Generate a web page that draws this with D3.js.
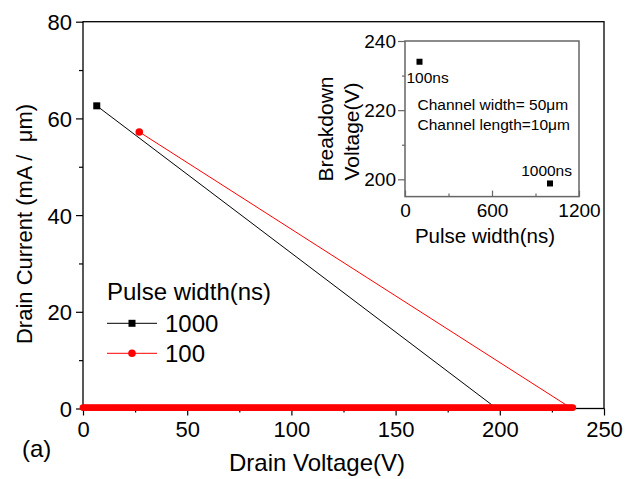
<!DOCTYPE html>
<html>
<head>
<meta charset="utf-8">
<script src="https://cdn.jsdelivr.net/npm/d3@7"></script>
<style>
  body { margin: 0; background: #fff; }
  svg { display: block; }
  svg text { font-family: Arial, "Liberation Sans", sans-serif; }
</style>
</head>
<body>
<div id="chart"></div>
<script>
// Main chart data
var pulseNames = ["1000", "100"];          // legend entries, pulse width in ns
var seriesColors = ["black", "red"];
var onVoltage = [6.6, 27.0];               // on-state point, V
var onCurrent = [62.6, 57.2];              // on-state point, mA/um
var breakVoltage = [198.5, 234.5];         // where the load line reaches 0 current
// off-state sweep for 100 ns, current sits at ~0
var offVoltage = [0, 1, 2, 3, 4, 5, 6, 7, 8, 9, 10, 11, 12, 13, 14, 15, 16, 17, 18, 19,
    20, 21, 22, 23, 24, 25, 26, 27, 28, 29, 30, 31, 32, 33, 34, 35, 36, 37, 38, 39,
    40, 41, 42, 43, 44, 45, 46, 47, 48, 49, 50, 51, 52, 53, 54, 55, 56, 57, 58, 59,
    60, 61, 62, 63, 64, 65, 66, 67, 68, 69, 70, 71, 72, 73, 74, 75, 76, 77, 78, 79,
    80, 81, 82, 83, 84, 85, 86, 87, 88, 89, 90, 91, 92, 93, 94, 95, 96, 97, 98, 99,
    100, 101, 102, 103, 104, 105, 106, 107, 108, 109, 110, 111, 112, 113, 114, 115, 116, 117, 118, 119,
    120, 121, 122, 123, 124, 125, 126, 127, 128, 129, 130, 131, 132, 133, 134, 135, 136, 137, 138, 139,
    140, 141, 142, 143, 144, 145, 146, 147, 148, 149, 150, 151, 152, 153, 154, 155, 156, 157, 158, 159,
    160, 161, 162, 163, 164, 165, 166, 167, 168, 169, 170, 171, 172, 173, 174, 175, 176, 177, 178, 179,
    180, 181, 182, 183, 184, 185, 186, 187, 188, 189, 190, 191, 192, 193, 194, 195, 196, 197, 198, 199,
    200, 201, 202, 203, 204, 205, 206, 207, 208, 209, 210, 211, 212, 213, 214, 215, 216, 217, 218, 219,
    220, 221, 222, 223, 224, 225, 226, 227, 228, 229, 230, 231, 232, 233, 234, 235];
var offCurrent = 0.2;

var xTicks = [0, 50, 100, 150, 200, 250];
var yTicks = [0, 20, 40, 60, 80];

// Inset data
var insetPulse = [100, 1000];              // ns
var insetBreakdown = [234, 198.8];         // V
var insetPointLabels = ["100ns", "1000ns"];
var insetXTicks = [0, 600, 1200];
var insetYTicks = [200, 220, 240];

var width = 632, height = 479;
var FONT = "Arial, 'Liberation Sans', sans-serif";

var svg = d3.select("#chart").append("svg")
    .attr("width", width)
    .attr("height", height);

// helper: strip the axis domain and style its ticks
function styleAxis(g, size, col) {
    g.attr("font-family", FONT).attr("font-size", size);
    g.select(".domain").remove();
    g.selectAll("line").attr("stroke", col).attr("stroke-width", 1.2);
    g.selectAll("text").attr("fill", "black");
}

// ---- main plot ----
var x = d3.scaleLinear().domain([0, 250]).range([83, 604]);
var y = d3.scaleLinear().domain([0, 80]).range([408.5, 21.7]);

// frame
svg.append("rect")
    .attr("x", x(0)).attr("y", y(80))
    .attr("width", x(250) - x(0)).attr("height", y(0) - y(80))
    .attr("fill", "none").attr("stroke", "black").attr("stroke-width", 1.3);

// left axis: outward ticks, majors + minors
var yMinor = svg.append("g").attr("transform", "translate(" + x(0) + ",0)")
    .call(d3.axisLeft(y).tickValues(d3.range(10, 80, 20)).tickSize(4).tickFormat(""));
styleAxis(yMinor, 22, "black");
var yMajor = svg.append("g").attr("transform", "translate(" + x(0) + ",0)")
    .call(d3.axisLeft(y).tickValues(yTicks).tickSize(7).tickPadding(4));
styleAxis(yMajor, 22, "black");
yMajor.selectAll("text").attr("dy", "0.36em");

// bottom axis
var xMinor = svg.append("g").attr("transform", "translate(0," + y(0) + ")")
    .call(d3.axisBottom(x).tickValues(d3.range(25, 250, 50)).tickSize(4).tickFormat(""));
styleAxis(xMinor, 22, "black");
var xMajor = svg.append("g").attr("transform", "translate(0," + y(0) + ")")
    .call(d3.axisBottom(x).tickValues(xTicks).tickSize(7).tickPadding(6));
styleAxis(xMajor, 22, "black");
xMajor.selectAll("text").attr("dy", "0.72em");

// load lines from on-state point down to breakdown
var line = d3.line().x(function (d) { return x(d[0]); }).y(function (d) { return y(d[1]); });
pulseNames.forEach(function (name, k) {
    svg.append("path")
        .datum([[onVoltage[k], onCurrent[k]], [breakVoltage[k], 0]])
        .attr("d", line)
        .attr("fill", "none")
        .attr("stroke", seriesColors[k])
        .attr("stroke-width", 1);
});

// off-state sweep (red circles along zero)
svg.append("g").selectAll("circle")
    .data(offVoltage)
    .join("circle")
    .attr("cx", function (d) { return x(d); })
    .attr("cy", y(offCurrent))
    .attr("r", 3.4)
    .attr("fill", "red");

// on-state markers
svg.append("rect")
    .attr("x", x(onVoltage[0]) - 3.5).attr("y", y(onCurrent[0]) - 3.5)
    .attr("width", 7).attr("height", 7).attr("fill", "black");
svg.append("circle")
    .attr("cx", x(onVoltage[1])).attr("cy", y(onCurrent[1]))
    .attr("r", 3.8).attr("fill", "red");

// axis titles
svg.append("text")
    .attr("transform", "translate(32,224) rotate(-90)")
    .attr("text-anchor", "middle")
    .attr("font-size", 22)
    .attr("xml:space", "preserve")
    .style("white-space", "pre")
    .text("Drain Current (mA /  \u03bcm)");
svg.append("text")
    .attr("x", 317).attr("y", 470.5)
    .attr("text-anchor", "middle")
    .attr("font-size", 24)
    .text("Drain Voltage(V)");
svg.append("text")
    .attr("x", 22).attr("y", 457)
    .attr("font-size", 24)
    .text("(a)");

// legend
var legend = svg.append("g");
legend.append("text")
    .attr("x", 107).attr("y", 300)
    .attr("font-size", 24)
    .text("Pulse width(ns)");
var legendRows = [323.3, 353.3];
pulseNames.forEach(function (name, k) {
    var ly = legendRows[k];
    legend.append("line")
        .attr("x1", 107).attr("x2", 157).attr("y1", ly).attr("y2", ly)
        .attr("stroke", seriesColors[k]).attr("stroke-width", 1);
    if (k === 0) {
        legend.append("rect").attr("x", 132 - 3.5).attr("y", ly - 3.5)
            .attr("width", 7).attr("height", 7).attr("fill", "black");
    } else {
        legend.append("circle").attr("cx", 132).attr("cy", ly).attr("r", 3.8).attr("fill", "red");
    }
    legend.append("text")
        .attr("x", 165).attr("y", ly + 8.5)
        .attr("font-size", 24)
        .text(name);
});

// ---- inset ----
var ix = d3.scaleLinear().domain([0, 1200]).range([405, 579]);
var iy = d3.scaleLinear().domain([195, 240]).range([196.6, 41]);
var grey = "#666";

var inset = svg.append("g");
inset.append("rect")
    .attr("x", ix(0)).attr("y", iy(240))
    .attr("width", ix(1200) - ix(0)).attr("height", iy(195) - iy(240))
    .attr("fill", "none").attr("stroke", grey).attr("stroke-width", 1.5);

var iyMinor = inset.append("g").attr("transform", "translate(" + ix(0) + ",0)")
    .call(d3.axisLeft(iy).tickValues([210, 230]).tickSize(3).tickFormat(""));
var iyMajor = inset.append("g").attr("transform", "translate(" + ix(0) + ",0)")
    .call(d3.axisLeft(iy).tickValues(insetYTicks).tickSize(7).tickPadding(2));
iyMajor.selectAll("text").attr("dy", "0.34em");

var ixMinor = inset.append("g").attr("transform", "translate(0," + iy(195) + ")")
    .call(d3.axisTop(ix).tickValues([300, 900]).tickSize(3).tickFormat(""));
var ixMajor = inset.append("g").attr("transform", "translate(0," + iy(195) + ")")
    .call(d3.axisTop(ix).tickValues(insetXTicks).tickSize(6).tickFormat(""));
var ixLabels = inset.append("g").attr("transform", "translate(0," + iy(195) + ")")
    .call(d3.axisBottom(ix).tickValues(insetXTicks).tickSize(0).tickPadding(7).tickFormat(d3.format("d")));
ixLabels.selectAll("text").attr("dy", "0.71em");
[iyMinor, iyMajor, ixMinor, ixMajor, ixLabels].forEach(function (g) {
    styleAxis(g, 19, grey);
});

inset.selectAll("rect.pt")
    .data(insetPulse)
    .join("rect")
    .attr("class", "pt")
    .attr("x", function (d) { return ix(d) - 3; })
    .attr("y", function (d, i) { return iy(insetBreakdown[i]) - 3; })
    .attr("width", 6).attr("height", 6)
    .attr("fill", "black");

inset.append("text").attr("x", 406.5).attr("y", 82.5).attr("font-size", 15.5).text(insetPointLabels[0]);
inset.append("text").attr("x", 572).attr("y", 175.5).attr("font-size", 15.5)
    .attr("text-anchor", "end").text(insetPointLabels[1]);
inset.append("text").attr("x", 417.5).attr("y", 109.5).attr("font-size", 15.5).text("Channel width= 50\u03bcm");
inset.append("text").attr("x", 417.5).attr("y", 129.5).attr("font-size", 15.5).text("Channel length=10\u03bcm");

inset.append("text")
    .attr("transform", "translate(333,129) rotate(-90)")
    .attr("text-anchor", "middle").attr("font-size", 21)
    .text("Breakdown");
inset.append("text")
    .attr("transform", "translate(358.5,131.5) rotate(-90)")
    .attr("text-anchor", "middle").attr("font-size", 21)
    .text("Voltage(V)");
inset.append("text")
    .attr("x", 485).attr("y", 243)
    .attr("text-anchor", "middle").attr("font-size", 20.5)
    .text("Pulse width(ns)");
</script>
</body>
</html>
